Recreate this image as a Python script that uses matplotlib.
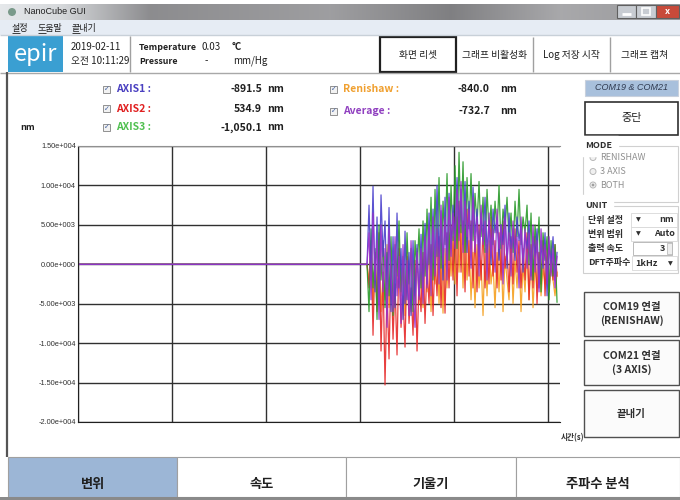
import numpy as np
import matplotlib
matplotlib.use('Agg')
import matplotlib.pyplot as plt
from matplotlib.patches import Rectangle, Circle

plt.rcParams['font.family'] = ['Noto Sans CJK KR', 'DejaVu Sans']

# ---------------- data ----------------
ytick_vals = [15000, 10000, 5000, 0, -5000, -10000, -15000, -20000]
ytick_labels = ["1.50e+004", "1.00e+004", "5.00e+003", "0.00e+000",
                "-5.00e+003", "-1.00e+004", "-1.50e+004", "-2.00e+004"]
xgrid = [0, 1, 2, 3, 4, 5]
t_start = 3.078
dt = 0.0213

axis1 = [0, 7500, -2000, 9900, -3500, 6000, -5000, 8800, 1000, 5500,
         -4000, 7200, -6000, 3500, -5500, 6500, -3000, 2000, -7000, 4200,
         -4500, 1500, -6500, 3000, -5000, 2500, -4000,
         3800, -3500, 5200, -2500, 6500, -1500, 7000, -500, 10000, 1000,
         6800, -2000, 8500, 500, 9000, 2000, 7500,
         3000, 11000, 4000, 9500, 2500, 10500, 1500,
         8000, 2000, 9800, 3500, 7000, 1000, 6500, 3000, 8500, 1500,
         5500, 0, 7000, 4000, 6000, 500, 5000, 2500, 7500, -500,
         6500, 2000, 4500, 500, 6000, 3000, 5000, -1000, 4000, 2000,
         5500, -1500, 3500, 1000, 4500, -3000, 3000, -500, 4000, -4000,
         2500, 0, 3500, -2000, 1500]
axis2 = [0, -3000, 3000, -9000, 1500, -6000, 4000, -11000, -1000, -15300,
         -3000, -12000, 0, -9500, -2500, -11500, 2000, -8000, -4000, -10500,
         1000, -7500, -3000, -9000, 500, -11000, -2000,
         -6000, 1500, -7500, 0, -5000, 2500, -6500, 1000, -4000, 3500,
         -5500, 2000, -6200, 4000, -3000, 5000, -2000,
         6000, -4000, 8000, -1000, 5500, -3500, 7000,
         -1500, 5500, -3000, 3500, -3500, 5000, -2000, 4500, -3000, 2500,
         -2500, 6000, -1500, 3000, -3000, 4000, -2000, 5500, -500, 2000,
         -3500, 3500, -2500, 4500, -1000, 3000, -3000, 2000, -2000, 4000,
         -4500, 2500, -3000, 3500, -5000, 1500, -2500, 3000, -4000, 2000,
         -3500, 1000, -2000, 2500, -1500]
axis3 = [0, -6000, 4500, -3000, 2000, -7000, 5000, -2000, 3000, -5500,
         1500, -4000, 3500, -6500, 2500, -1500, 5500, -3500, 1000, -5000,
         4000, -2500, 2000, -6000, 3000, -1000, 4500,
         -3000, 5500, -1500, 7000, 0, 8500, -2000, 9500, 1000, 11000,
         -500, 8000, 2500, 11500, 500, 10000, 3000,
         12500, 2000, 14200, 4000, 13000, 1500, 11000,
         4500, 11500, 3000, 9000, 5000, 10500, 3500, 8500, 1500, 9500,
         4000, 7500, 2500, 8000, 4000, 10000, 2000, 7000, 4500, 8500,
         3000, 6500, 1500, 8000, 3500, 9500, 2500, 6000, 4000, 7500,
         0, 6500, -2000, 5000, 1500, 6000, -3500, 4000, 500, 3500,
         -4500, 3000, -1500, 2500, -4800]
renishaw = [0, -2000, 1500, -5000, 500, -3500, 2000, -6000, -1000, -4500,
            2500, -5500, 0, -7000, 1000, -3000, 3000, -4000, -500, -6500,
            1500, -2500, -6000, 500, -4000, 2000, -5000,
            -1000, -5500, 1500, -3500, 2500, -6000, 0, -2500, 3000, -5000,
            1000, -6200, 2000, -3000, 4000, -1500, 3500,
            -2500, 6000, -1000, 5000, -3000, 4500, -2000,
            3000, -4500, 1500, -5500, 2500, -3000, 500, -6500, 2000, -4000,
            3000, -2500, 0, -5500, 1500, -3500, 2500, -6000, 1000, -2000,
            -4500, 2000, -5000, 500, -3000, 1500, -6000, 0, -3500, 2000,
            -4500, 1000, -5500, 0, -3000, 1500, -4000, -500, -2500, 1000,
            -3500, 0, -2000, -4000, -1000]
average = [0, 4000, -4500, 6500, -2000, 3000, -7000, 5000, -3500, 2000,
           -8000, 4500, -1500, -6000, 3500, -4000, 1000, -7500, 2500, -5000,
           500, -6500, 3000, -3000, -8000, 1500, -4500,
           2000, -5000, 3500, -3000, 5000, -4000, 6000, -1500, 4500, -2500,
           7500, 0, 6000, -2000, 8500, 1000, 6500,
           2000, 9500, 3000, 10500, 1500, 8000, 3500,
           7000, -500, 8500, 1500, 6000, -1500, 7500, 2500, 5500, -2000,
           6500, 1000, 4500, -1000, 7000, 2000, 5000, -2500, 6000, 500,
           4000, -1500, 5500, 1500, 3500, -3000, 6000, 0, 4500, -500,
           4000, -2000, 5000, -1000, 3000, -3500, 4500, 0, 2500, -2500,
           3500, -1500, 2000, -3000, 1000]

readout_names = ["AXIS1 :", "AXIS2 :", "AXIS3 :"]
readout_vals = ["-891.5", "534.9", "-1,050.1"]
readout2_names = ["Renishaw :", "Average :"]
readout2_vals = ["-840.0", "-732.7"]

# ---------------- figure ----------------
fig = plt.figure(figsize=(6.8, 5.0), dpi=100)
fig.patch.set_facecolor('white')
bg = fig.add_axes([0, 0, 1, 1])
bg.set_xlim(0, 680)
bg.set_ylim(500, 0)
bg.axis('off')


def rect(x0, y0, x1, y1, fc='none', ec='none', lw=1.0, z=1):
    bg.add_patch(Rectangle((x0, y0), x1 - x0, y1 - y0, facecolor=fc,
                           edgecolor=ec, linewidth=lw, zorder=z))


def txt(x, y, s, size=7, color='#222222', ha='left', weight='normal', **kw):
    bg.text(x, y, s, fontsize=size, color=color, ha=ha, va='center',
            fontweight=weight, zorder=5, **kw)


def hline(y, x0, x1, color='#999999', lw=1.0):
    bg.plot([x0, x1], [y, y], color=color, lw=lw, zorder=3, solid_capstyle='butt')


def vline(x, y0, y1, color='#999999', lw=1.0):
    bg.plot([x, x], [y0, y1], color=color, lw=lw, zorder=3, solid_capstyle='butt')


# title bar gradient
stops = np.array([[0, 0.90, 0.91, 0.92], [60, 0.84, 0.85, 0.86], [150, 0.55, 0.55, 0.56],
                  [330, 0.62, 0.62, 0.63], [450, 0.50, 0.50, 0.51], [560, 0.66, 0.66, 0.67],
                  [680, 0.60, 0.60, 0.61]])
xs = np.arange(680)
grad = np.stack([np.interp(xs, stops[:, 0], stops[:, i]) for i in (1, 2, 3)], axis=-1)[None, :, :]
bg.imshow(grad, extent=(0, 680, 20, 4), aspect='auto', zorder=0, interpolation='bilinear')
bg.set_xlim(0, 680)
bg.set_ylim(500, 0)
bg.add_patch(Circle((12, 12), 4, facecolor='#7a9a8a', edgecolor='none', zorder=2))
txt(24, 12, "NanoCube GUI", size=6.5, color='#202020', family=['Liberation Sans', 'DejaVu Sans'])
# window buttons
rect(617, 5, 636, 18, fc='#c8ccd2', ec='#606060', lw=0.8, z=2)
rect(636, 5, 656, 18, fc='#c8ccd2', ec='#606060', lw=0.8, z=2)
rect(656, 5, 679, 18, fc='#c84a3a', ec='#606060', lw=0.8, z=2)
hline(14, 622, 631, color='white', lw=2)
rect(642, 8, 650, 15, ec='white', lw=1.2, z=4)
txt(667.5, 11.5, "x", size=6.5, color='white', ha='center', weight='bold')

# menu bar
rect(0, 20, 680, 35, fc='#e6ecf4')
hline(35, 0, 680, color='#c8d0d8')
for x, s in [(12, "설정"), (38, "도움말"), (72, "끝내기")]:
    txt(x, 28, s, size=6.5, color='#202020')
    hline(33, x, x + 8, color='#202020', lw=0.6)

# header row
rect(8, 36, 63, 72, fc='#3a9fd2')
txt(35.5, 54, "epir", size=17, color='white', ha='center')
txt(71, 47, "2019-02-11", size=7, color='#202020')
txt(71, 61, "오전 10:11:29", size=7, color='#202020')
vline(130, 36, 72, color='#a0a0a0')
txt(139, 47, "Temperature", size=6.4, color='#202020', weight='bold')
txt(139, 61, "Pressure", size=6.4, color='#202020', weight='bold')
txt(202, 47, "0.03", size=7, color='#202020')
txt(205, 61, "-", size=7, color='#202020')
txt(232, 47, "°C", size=7, color='#202020', weight='bold')
txt(233, 61, "mm/Hg", size=7, color='#202020')
rect(380, 37, 456, 72, fc='white', ec='#202020', lw=1.6, z=2)
txt(418, 55, "화면 리셋", size=7, color='#202020', ha='center')
vline(533, 37, 72, color='#a0a0a0')
vline(610, 37, 72, color='#a0a0a0')
txt(494.5, 55, "그래프 비활성화", size=7, color='#202020', ha='center')
txt(571.5, 55, "Log 저장 시작", size=7, color='#202020', ha='center')
txt(645, 55, "그래프 캡쳐", size=7, color='#202020', ha='center')
hline(72.5, 0, 680, color='#a8a8a8')

# left border
vline(7, 72, 457, color='#555555', lw=1.6)

# readouts


def checkbox(x, y):
    rect(x, y - 3.5, x + 7, y + 3.5, fc='#f2f2f2', ec='#909090', lw=0.7, z=2)
    txt(x + 3.5, y, "✓", size=5, color='#4060a0', ha='center', family=['DejaVu Sans'])


left_colors = ['#4a40c0', '#e02020', '#50c050']
for i, (n, v, c) in enumerate(zip(readout_names, readout_vals, left_colors)):
    y = 89.5 + i * 19
    checkbox(103, y)
    txt(116, y, n, size=7.5, color=c, weight='bold')
    txt(262, y, v, size=7.5, color='#202020', weight='bold', ha='right')
    txt(267, y, "nm", size=7.5, color='#202020', weight='bold')
right_colors = ['#f0a030', '#9040c0']
for i, (n, v, c) in enumerate(zip(readout2_names, readout2_vals, right_colors)):
    y = 89.5 + i * 21.5
    checkbox(330, y)
    txt(343, y, n, size=7.5, color=c, weight='bold')
    txt(490, y, v, size=7.5, color='#202020', weight='bold', ha='right')
    txt(500, y, "nm", size=7.5, color='#202020', weight='bold')
txt(20, 128, "nm", size=6.5, color='#202020', weight='bold')

# right panel
rect(585, 80, 678, 96, fc='#a8c0dc', ec='#c8d0dc', lw=0.8)
txt(631.5, 88, "COM19 & COM21", size=6.5, color='#303a50', ha='center',
    style='italic', family=['Liberation Sans', 'DejaVu Sans'])
rect(585, 102, 678, 135, fc='white', ec='#303030', lw=1.2)
txt(631.5, 118.5, "중단", size=8, color='#202020', ha='center')

rect(583, 146, 678, 202, ec='#d0d0d0', lw=0.8)
txt(585, 146, "MODE", size=6.5, color='#303030', weight='bold', backgroundcolor='white')
for y, s, on in [(157.5, "RENISHAW", False), (171.5, "3 AXIS", False), (185, "BOTH", True)]:
    bg.add_patch(Circle((593, y), 3, facecolor='#f0f0f0', edgecolor='#b8b8b8', lw=0.7, zorder=3))
    if on:
        bg.add_patch(Circle((593, y), 1.4, facecolor='#a0a0a0', edgecolor='none', zorder=4))
    txt(600, y, s, size=6.5, color='#909090')

rect(583, 206, 678, 273, ec='#d0d0d0', lw=0.8)
txt(585, 205, "UNIT", size=6.5, color='#303030', weight='bold', backgroundcolor='white')
txt(588, 220, "단위 설정", size=6.5, color='#303030', weight='bold')
rect(631, 213, 677, 227, fc='white', ec='#d8d8d8', lw=0.6)
txt(638, 220, "▼", size=4.5, color='#303030', ha='center', family=['DejaVu Sans'])
txt(674, 220, "nm", size=6.5, color='#303030', ha='right', weight='bold')
txt(588, 234, "변위 범위", size=6.5, color='#303030', weight='bold')
rect(631, 227, 677, 241, fc='white', ec='#d8d8d8', lw=0.6)
txt(638, 234, "▼", size=4.5, color='#303030', ha='center', family=['DejaVu Sans'])
txt(675, 233, "Auto", size=6.5, color='#303030', ha='right', weight='bold')
txt(588, 248.5, "출력 속도", size=6.5, color='#303030', weight='bold')
rect(633, 242, 672, 255, fc='white', ec='#b0b0b0', lw=0.6)
rect(667, 243, 672, 254, fc='#eeeeee', ec='#b0b0b0', lw=0.5)
txt(665, 248.5, "3", size=6.5, color='#303030', ha='right', weight='bold')
txt(588, 263, "DFT주파수", size=6.5, color='#303030', weight='bold')
rect(632, 256, 677, 270, fc='white', ec='#d8d8d8', lw=0.6)
txt(635, 263, "1kHz", size=6.5, color='#303030', weight='bold')
txt(670, 263.5, "▼", size=4.5, color='#303030', ha='center', family=['DejaVu Sans'])

for (y0, y1, lines) in [(292, 336, ["COM19 연결", "(RENISHAW)"]),
                        (340, 385, ["COM21 연결", "(3 AXIS)"]),
                        (390, 437, ["끝내기"])]:
    rect(584, y0, 679, y1, fc='#fbfbfb', ec='#505050', lw=1.0)
    yc = (y0 + y1) / 2
    if len(lines) == 2:
        txt(631.5, yc - 7, lines[0], size=7.5, color='#303030', ha='center', weight='bold')
        txt(631.5, yc + 7, lines[1], size=7.5, color='#303030', ha='center', weight='bold')
    else:
        txt(631.5, yc, lines[0], size=7.5, color='#303030', ha='center', weight='bold')

txt(561, 438, "시간(s)", size=5.5, color='#303030', weight='bold')

# bottom tabs
rect(8, 457, 177, 497, fc='#9cb6d6', ec='#a0a0a0', lw=0.8)
rect(177, 457, 346, 497, fc='white', ec='#a0a0a0', lw=0.8)
rect(346, 457, 516, 497, fc='white', ec='#a0a0a0', lw=0.8)
rect(516, 457, 680, 497, fc='white', ec='#a0a0a0', lw=0.8)
for x, s in [(93, "변위"), (262, "속도"), (431, "기울기"), (598, "주파수 분석")]:
    txt(x, 484, s, size=9.5, color='#202020', ha='center', weight='bold')
rect(0, 497, 680, 500, fc='#8a8a8a')

# ---------------- plot ----------------
ax = fig.add_axes([78 / 680, (500 - 422) / 500, 482 / 680, 276 / 500])
ax.set_facecolor('white')
ax.set_xlim(0, 482 / 93.9)
ax.set_ylim(-20000, 15000)
ax.set_yticks(ytick_vals)
ax.set_yticklabels(ytick_labels, fontsize=5.3, color='#303030',
                   family=['Liberation Sans', 'DejaVu Sans'])
ax.set_xticks(xgrid)
ax.set_xticklabels([])
ax.tick_params(length=0, pad=1.5)
ax.grid(True, color='#303030', lw=1.0)
ax.set_axisbelow(True)
ax.spines['right'].set_visible(False)
ax.spines['top'].set_color('#909090')
ax.spines['left'].set_color('#202020')
ax.spines['bottom'].set_color('#202020')

series = [(renishaw, '#f5a020'), (axis2, '#e62a2a'), (axis3, '#2a9a2a'),
          (axis1, '#4a40cc'), (average, '#9a30c8')]
for vals, c in series:
    v = np.asarray(vals, dtype=float)
    t = t_start + dt * np.arange(len(v))
    x = np.concatenate([[0.0], t])
    y = np.concatenate([[0.0], v])
    ax.plot(x, y, color=c, lw=0.9, alpha=0.9)

fig.savefig('out.png', dpi=100, facecolor='white')
